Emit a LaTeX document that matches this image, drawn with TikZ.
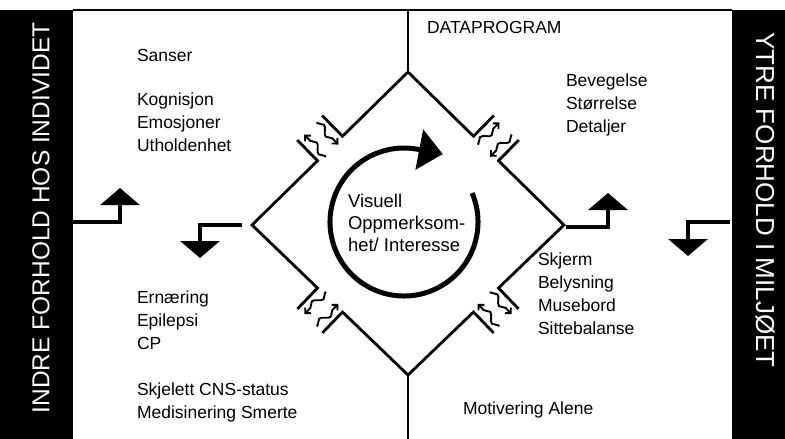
\documentclass[tikz,border=0pt]{standalone}
\usepackage{fontspec}
\setmainfont{Liberation Sans}
\usetikzlibrary{arrows.meta, calc, positioning, decorations.pathmorphing}

\begin{document}
\begin{tikzpicture}[x=1pt, y=-1pt,
        every node/.style={inner sep=0pt, outer sep=0pt},
        txt/.style={font=\fontsize{17.5}{23}\selectfont, align=left, anchor=base west},
        bar/.style={fill=black, draw=none},
        bartext/.style={text=white, font=\fontsize{24.5}{24.5}\selectfont},
        edge/.style={line width=2.8pt},
        stem/.style={line width=2pt},
        turn/.style={line width=3.6pt, -{Triangle[length=17pt, width=39pt]}},
        wave/.style={line width=1.9pt, -{Straight Barb[length=4pt, width=8pt]},
          decorate, decoration={snake, amplitude=3.5pt, segment length=19pt,
          pre length=1pt, post length=4pt}},
    ]
        \useasboundingbox (0,0) rectangle (785,439);

        % side bars
        \node[bar, anchor=north west, minimum width=73pt, minimum height=429pt] (inner) at (0,10) {};
        \node[bar, anchor=north east, minimum width=53pt, minimum height=429pt] (outer) at (785,10) {};
        \node[bartext, rotate=90] (innerlabel) at (41,218) {INDRE FORHOLD HOS INDIVIDET};
        \node[bartext, rotate=-90, font=\fontsize{26}{26}\selectfont] (outerlabel) at (765,200) {YTRE FORHOLD I MILJØET};
        \draw[line width=1.3pt] (inner.north east) -- (outer.north west);

        % diamond
        \coordinate (T) at (408,72);
        \coordinate (R) at (564,225);
        \coordinate (B) at (408,375);
        \coordinate (L) at (252,225);
        \coordinate (top) at (408,10);
        \coordinate (bottom) at (408,439);
        \draw[stem] (top) -- (T);
        \draw[stem] (B) -- (bottom);

        \foreach \p/\q in {T/R, R/B, B/L, L/T} {
            \coordinate (\p\q-a) at ($(\p)!0.42!(\q)$);
            \coordinate (\p\q-b) at ($(\p)!0.58!(\q)$);
            \coordinate (\p\q-oa) at ($(\p\q-a)!29pt!90:(\q)$);
            \coordinate (\p\q-ob) at ($(\p\q-b)!29pt!90:(\q)$);
        }
        \draw[edge] (LT-ob) -- (LT-b) -- (T) -- (TR-a) -- (TR-oa)
            (TR-ob) -- (TR-b) -- (R) -- (RB-a) -- (RB-oa)
            (RB-ob) -- (RB-b) -- (B) -- (BL-a) -- (BL-oa)
            (BL-ob) -- (BL-b) -- (L) -- (LT-a) -- (LT-oa);

        % exchange through the gates
        \foreach \p/\q/\fout/\fin in {L/T/0.46/0.54, T/R/0.46/0.54, R/B/0.46/0.54, B/L/0.54/0.46} {
            \coordinate (wout) at ($(\p)!\fout!(\q)$);
            \coordinate (win) at ($(\p)!\fin!(\q)$);
            \draw[wave] ($(wout)!-3pt!90:(\q)$) -- ($(wout)!28pt!90:(\q)$);
            \draw[wave] ($(win)!28pt!90:(\q)$) -- ($(win)!-3pt!90:(\q)$);
        }

        % cycle
        \coordinate (C) at (404,222);
        \draw[line width=5pt, -{Triangle[length=24pt, width=40pt]}]
            ($(C)+(-23:74)$) arc[start angle=-23, end angle=280, radius=74] -- ++(26,5);
        \node[txt, font=\fontsize{18.5}{22}\selectfont] (visuell) at (348,251) {Visuell\\Oppmerksom-\\het/ Interesse};

        % turning arrows
        \coordinate (upLfoot) at (70,222);
        \coordinate (upL) at (120,188);
        \coordinate (downLfoot) at (242,225);
        \coordinate (downL) at (200,258);
        \coordinate (upRfoot) at (566,227);
        \coordinate (upR) at (608,193);
        \coordinate (downRfoot) at (730,222);
        \coordinate (downR) at (688,256);
        \draw[turn] (upLfoot) -| (upL);
        \draw[turn] (downLfoot) -| (downL);
        \draw[turn] (upRfoot) -| (upR);
        \draw[turn] (downRfoot) -| (downR);

        % inner factors
        \node[txt] (sanser) at (137,61) {Sanser};
        \node[txt, below=90pt of sanser.base west, anchor=base west] (kognisjon) {Kognisjon\\Emosjoner\\Utholdenhet};
        \node[txt] (ernaering) at (137,349) {Ernæring\\Epilepsi\\CP};
        \node[txt] (skjelett) at (137,418) {Skjelett CNS-status\\Medisinering Smerte};

        % outer factors
        \node[txt] (dataprogram) at (427,34) {DATAPROGRAM};
        \node[txt] (bevegelse) at (566,132) {Bevegelse\\Størrelse\\Detaljer};
        \node[txt] (skjerm) at (538,334) {Skjerm\\Belysning\\Musebord\\Sittebalanse};
        \node[txt] (motivering) at (463,414) {Motivering Alene};
\end{tikzpicture}
\end{document}
